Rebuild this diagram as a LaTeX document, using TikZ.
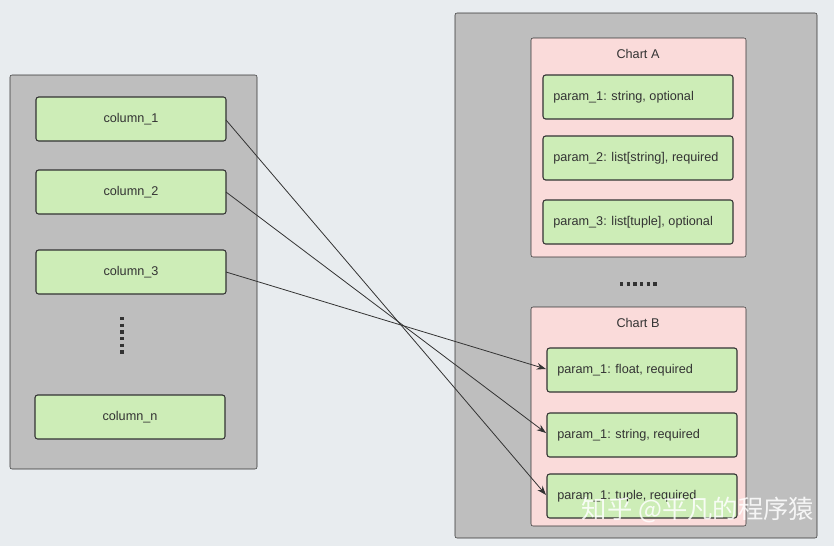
\documentclass[tikz,border=0pt]{standalone}
\usepackage{fontspec}
\setmainfont{Liberation Sans}
\newfontfamily\cjk{Noto Sans CJK SC}
\usetikzlibrary{arrows.meta}
\definecolor{bgcol}{HTML}{E8ECEF}
\definecolor{panelcol}{HTML}{BEBEBE}
\definecolor{boxgreen}{HTML}{CDEDB7}
\definecolor{chartpink}{HTML}{FADBDA}
\definecolor{linecol}{HTML}{333333}
\tikzset{
  panel/.style={draw=linecol, fill=panelcol, rounded corners=1.5pt},
  chart/.style={draw=linecol, fill=chartpink, rounded corners=1.5pt},
  fieldbox/.style={draw=linecol, fill=boxgreen, rounded corners=2pt, thick},
  link/.style={draw=linecol, semithick, -{Stealth[length=7pt,width=5pt]}},
}
\begin{document}
\begin{tikzpicture}[x=0.75pt, y=-0.75pt, font=\fontsize{9.5}{11}\selectfont, text=linecol]
    % background
    \fill[bgcol] (0,0) rectangle (834,546);
    \useasboundingbox (0,0) rectangle (834,546);

    % panels
    \draw[panel] (10,75) rectangle (257,469);
    \draw[panel] (455,13) rectangle (817,538);
    \draw[chart] (531,38) rectangle (746,257);
    \draw[chart] (531,307) rectangle (746,526);
    \node (titleA) at (638,54) {Chart A};
    \node (titleB) at (638,323) {Chart B};

    % columns
    \draw[fieldbox] (36,97) rectangle (226,141) node[midway] (col1) {column\_1};
    \draw[fieldbox] (36,170) rectangle (226,214) node[midway] (col2) {column\_2};
    \draw[fieldbox] (36,250) rectangle (226,294) node[midway] (col3) {column\_3};
    \draw[fieldbox] (35,395) rectangle (225,439) node[midway] (coln) {column\_n};
    \draw[linecol, line width=3pt, dash pattern=on 2.5pt off 2.5pt] (122,317) -- (122,356);
    \coordinate (c1) at (226,120);
    \coordinate (c2) at (226,192);
    \coordinate (c3) at (226,272);

    % params of Chart A
    \draw[fieldbox] (543,75) rectangle (733,119);
    \node[anchor=west, inner sep=0pt] (pa1) at (553,97) {param\_1: string, optional};
    \draw[fieldbox] (543,136) rectangle (733,180);
    \node[anchor=west, inner sep=0pt] (pa2) at (553,158) {param\_2: list[string], required};
    \draw[fieldbox] (543,200) rectangle (733,244);
    \node[anchor=west, inner sep=0pt] (pa3) at (553,222) {param\_3: list[tuple], optional};
    \draw[linecol, line width=3pt, dash pattern=on 2.5pt off 2.5pt] (620,284) -- (658,284);

    % params of Chart B
    \draw[fieldbox] (547,348) rectangle (737,392);
    \node[anchor=west, inner sep=0pt] (pb1) at (557,370) {param\_1: float, required};
    \draw[fieldbox] (547,413) rectangle (737,457);
    \node[anchor=west, inner sep=0pt] (pb2) at (557,435) {param\_1: string, required};
    \draw[fieldbox] (547,474) rectangle (737,518);
    \node[anchor=west, inner sep=0pt] (pb3) at (557,496) {param\_1: tuple, required};
    \coordinate (b1) at (546,369);
    \coordinate (b2) at (546,433);
    \coordinate (b3) at (546,495);

    % mappings
    \draw[link] (c1) -- (b3);
    \draw[link] (c2) -- (b2);
    \draw[link] (c3) -- (b1);

    % watermark
    \node[text=white, opacity=0.85, font=\cjk\fontsize{19}{19}\selectfont] (mark) at (698,510) {知乎 @平凡的程序猿};
\end{tikzpicture}
\end{document}
